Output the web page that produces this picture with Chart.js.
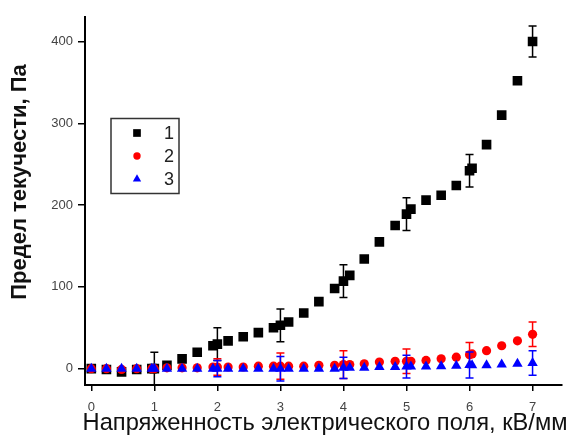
<!DOCTYPE html>
<html>
<head>
<meta charset="utf-8">
<title>Предел текучести</title>
<script src="https://cdn.jsdelivr.net/npm/chart.js"></script>
<style>
  body { margin: 0; background: #fff; }
  canvas { display: block; }
</style>
</head>
<body>
<canvas id="myChart" width="569" height="437"></canvas>
<script>
// field strength, kV/mm (shared by all three samples)
const fieldKV = [0, 0.24, 0.48, 0.72, 0.96, 1.0, 1.2, 1.44, 1.68, 1.93, 2.0, 2.17, 2.41, 2.65, 2.89, 3.0,
  3.13, 3.37, 3.61, 3.86, 4.0, 4.1, 4.33, 4.57, 4.82, 5.0, 5.07, 5.31, 5.55, 5.79, 6.0, 6.04, 6.27,
  6.51, 6.76, 7.0];

// yield stress, Pa
const yield1 = [0, -1, -4, -1, 0, 0, 4, 12, 20, 28, 30, 34, 39, 44, 50, 53, 57, 68, 82, 98, 107, 114,
  134, 155, 175, 189, 195, 206, 212, 224, 242, 245, 274, 310, 352, 400];
const yield2 = [0, 0, -1, 0, 0, 0, 1, 1, 1, 2, 2, 2, 2, 3, 3, 3, 3, 3, 4, 4, 5, 5, 6, 8, 9, 9, 9, 10,
  12, 14, 17, 18, 22, 28, 34, 42];
const yield3 = [0, 0, 0, 0, 0, 0, 0, 0, 0, 0, 0, 0, 0, 0, 0, 0, 0, 0, 0, 0, 1, 1, 1, 2, 2, 2.5, 2.5,
  2.5, 3, 3.5, 4.5, 4, 4, 5, 6, 7];

// error half-widths (only the repeated points at whole kV/mm have them)
const err1 = [null, null, null, null, null, 20, null, null, null, null, 20, null, null, null, null, 20,
  null, null, null, null, 20, null, null, null, null, 20, null, null, null, null, 20, null, null,
  null, null, 19];
const err2 = [null, null, null, null, null, null, null, null, null, null, 10, null, null, null, null, 16,
  null, null, null, null, 17, null, null, null, null, 15, null, null, null, null, 15, null, null,
  null, null, 15];
const err3 = [null, null, null, null, null, null, null, null, null, null, 10, null, null, null, null, 15,
  null, null, null, null, 13, null, null, null, null, 14, null, null, null, null, 16, null, null,
  null, null, 15];

const seriesNames = ['1', '2', '3'];
const xTicks = [0, 1, 2, 3, 4, 5, 6, 7];
const yTicks = [0, 100, 200, 300, 400];

const xTitle = 'Напряженность электрического поля, кВ/мм';
const yTitle = 'Предел текучести, Па';

const FONT = 'Arial, "Liberation Sans", sans-serif';

function toPoints(ys) {
  return ys.map((y, i) => ({ x: fieldKV[i], y: y }));
}

// vertical error bars with caps, drawn right after their own dataset
const errorBars = {
  id: 'errorBars',
  afterDatasetDraw(chart, args) {
    const ds = chart.data.datasets[args.index];
    if (!ds.errors) return;
    const ctx = chart.ctx, xs = chart.scales.x, ys = chart.scales.y;
    ctx.save();
    ctx.strokeStyle = ds.borderColor;
    ctx.lineWidth = 1.5;
    ds.data.forEach((p, i) => {
      const e = ds.errors[i];
      if (e == null) return;
      const px = xs.getPixelForValue(p.x);
      const top = ys.getPixelForValue(p.y + e);
      const bot = ys.getPixelForValue(p.y - e);
      ctx.beginPath();
      ctx.moveTo(px, top); ctx.lineTo(px, bot);
      ctx.moveTo(px - 4, top); ctx.lineTo(px + 4, top);
      ctx.moveTo(px - 4, bot); ctx.lineTo(px + 4, bot);
      ctx.stroke();
    });
    ctx.restore();
  }
};

function marker(ctx, style, x, y, r, color) {
  ctx.fillStyle = color;
  ctx.beginPath();
  if (style === 'rect') {
    const s = r * Math.SQRT1_2;
    ctx.rect(x - s, y - s, 2 * s, 2 * s);
  } else if (style === 'triangle') {
    ctx.moveTo(x, y - r);
    ctx.lineTo(x + r * 0.866, y + r * 0.5);
    ctx.lineTo(x - r * 0.866, y + r * 0.5);
    ctx.closePath();
  } else {
    ctx.arc(x, y, r, 0, Math.PI * 2);
  }
  ctx.fill();
}

// boxed legend inside the plot plus both axis titles
const decorations = {
  id: 'decorations',
  afterDraw(chart) {
    const ctx = chart.ctx;
    ctx.save();
    // legend box
    ctx.strokeStyle = '#333';
    ctx.lineWidth = 1.5;
    ctx.strokeRect(111, 118.5, 68, 75);
    chart.data.datasets.forEach((ds, i) => {
      const cy = 133 + i * 23;
      marker(ctx, ds.pointStyle, 137, cy, ds.pointRadius * 0.8, ds.backgroundColor);
      ctx.fillStyle = '#222';
      ctx.font = '18px ' + FONT;
      ctx.textAlign = 'center';
      ctx.textBaseline = 'middle';
      ctx.fillText(ds.label, 169, cy + 1);
    });
    // x title
    ctx.fillStyle = '#111';
    ctx.font = '23.7px ' + FONT;
    ctx.textAlign = 'center';
    ctx.textBaseline = 'middle';
    ctx.fillText(xTitle, 325, 423);
    // y title
    ctx.translate(20, 182);
    ctx.rotate(-Math.PI / 2);
    ctx.font = 'bold 22px ' + FONT;
    ctx.fillText(yTitle, 0, 0);
    ctx.restore();
  }
};

const ctx = document.getElementById('myChart').getContext('2d');
const myChart = new Chart(ctx, {
  type: 'scatter',
  data: {
    datasets: [{
      label: seriesNames[0],
      data: toPoints(yield1),
      errors: err1,
      pointStyle: 'rect',
      pointRadius: 6.8,
      borderWidth: 0,
      backgroundColor: '#000000',
      borderColor: '#000000',
      order: 3
    }, {
      label: seriesNames[1],
      data: toPoints(yield2),
      errors: err2,
      pointStyle: 'circle',
      pointRadius: 4.6,
      borderWidth: 0,
      backgroundColor: '#ff0000',
      borderColor: '#ff0000',
      order: 2
    }, {
      label: seriesNames[2],
      data: toPoints(yield3),
      errors: err3,
      pointStyle: 'triangle',
      pointRadius: 6,
      borderWidth: 0,
      backgroundColor: '#0000ff',
      borderColor: '#0000ff',
      order: 1
    }]
  },
  options: {
    responsive: false,
    animation: false,
    devicePixelRatio: 1,
    layout: { padding: { top: 17, right: 2, left: 0, bottom: 0 } },
    plugins: { legend: { display: false }, tooltip: { enabled: false } },
    scales: {
      x: {
        type: 'linear',
        min: -0.1,
        max: 7.47,
        afterFit: s => { s.height = 52; },
        afterBuildTicks: s => { s.ticks = xTicks.map(v => ({ value: v })); },
        border: { display: true, color: '#000', width: 2 },
        grid: { display: true, drawOnChartArea: false, drawTicks: true, tickLength: 6, color: '#000', lineWidth: 1.5 },
        ticks: { padding: 9, color: '#444', font: { family: FONT, size: 13 }, maxRotation: 0 }
      },
      y: {
        type: 'linear',
        min: -20,
        max: 430,
        afterFit: s => { s.width = 85; },
        afterBuildTicks: s => { s.ticks = yTicks.map(v => ({ value: v })); },
        border: { display: true, color: '#000', width: 2 },
        grid: { display: true, drawOnChartArea: false, drawTicks: true, tickLength: 7, color: '#000', lineWidth: 1.5 },
        ticks: { padding: 5, color: '#444', font: { family: FONT, size: 13 } }
      }
    }
  },
  plugins: [errorBars, decorations]
});
</script>
</body>
</html>
